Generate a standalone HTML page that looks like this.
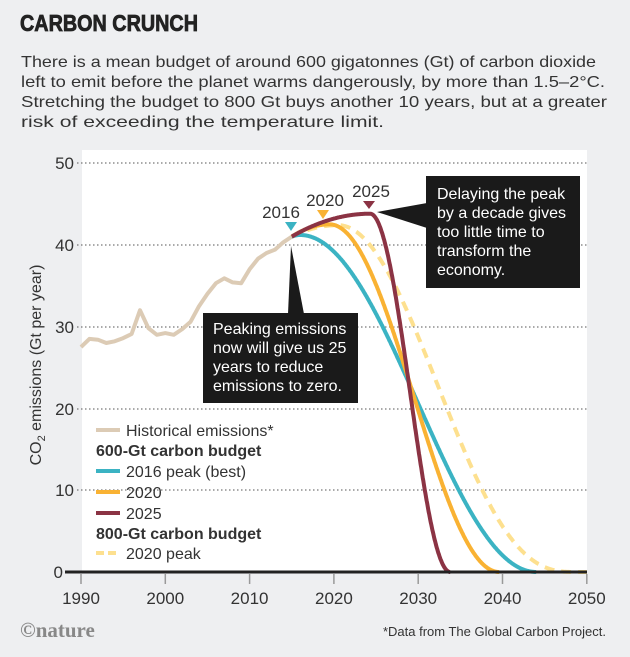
<!DOCTYPE html>
<html><head><meta charset="utf-8"><style>
body{margin:0;background:#eeeff1;}
svg{display:block;font-family:"Liberation Sans",sans-serif;}
</style></head><body>
<svg id="s" width="630" height="657" xmlns="http://www.w3.org/2000/svg">
<rect width="630" height="657" fill="#eeeff1"/>
<text x="20" y="31" font-size="23" font-weight="bold" fill="#222" stroke="#222" stroke-width="0.8" textLength="178" lengthAdjust="spacingAndGlyphs">CARBON CRUNCH</text>
<g font-size="16" fill="#333">
<text x="21" y="67" textLength="575" lengthAdjust="spacingAndGlyphs">There is a mean budget of around 600 gigatonnes (Gt) of carbon dioxide</text>
<text x="21" y="87" textLength="584" lengthAdjust="spacingAndGlyphs">left to emit before the planet warms dangerously, by more than 1.5–2°C.</text>
<text x="21" y="107" textLength="586" lengthAdjust="spacingAndGlyphs">Stretching the budget to 800 Gt buys another 10 years, but at a greater</text>
<text x="21" y="127" textLength="363" lengthAdjust="spacingAndGlyphs">risk of exceeding the temperature limit.</text>
</g>
<rect x="82" y="150" width="505" height="422" fill="#fff"/>
<g stroke="#555" stroke-width="1" stroke-dasharray="1.5,2.5">
<line x1="77" y1="163" x2="587" y2="163"/><line x1="77" y1="245" x2="587" y2="245"/>
<line x1="77" y1="327" x2="587" y2="327"/><line x1="77" y1="409" x2="587" y2="409"/>
<line x1="77" y1="490" x2="587" y2="490"/>
</g>
<g font-size="17" fill="#333" text-anchor="end">
<text x="74" y="169">50</text><text x="74" y="251">40</text><text x="74" y="333">30</text>
<text x="74" y="415">20</text><text x="74" y="496">10</text><text x="63" y="578">0</text>
</g>
<text transform="translate(41,365) rotate(-90)" font-size="16" fill="#333" text-anchor="middle">CO<tspan font-size="11" dy="4">2</tspan><tspan dy="-4"> emissions (Gt per year)</tspan></text>
<g id="curves" fill="none" stroke-width="4" stroke-linejoin="round"></g>
<line x1="65" y1="572" x2="587" y2="572" stroke="#222" stroke-width="3"/>
<g stroke="#999" stroke-width="1.5" id="ticks"></g>
<g font-size="17" fill="#333" text-anchor="middle" id="xl"></g>
<polygon points="285,222 297,222 291,231" fill="#3bb3c3"/>
<polygon points="317,210 329,210 323,219" fill="#f9b233"/>
<polygon points="363,201 375,201 369,209" fill="#8b3344"/>
<g font-size="17" fill="#333" text-anchor="middle">
<text x="281" y="218">2016</text><text x="325" y="206">2020</text><text x="371" y="197">2025</text>
</g>
<polygon points="291,246 288,314 304,314" fill="#1a1a1a"/>
<rect x="203" y="313" width="155" height="90" fill="#1a1a1a"/>
<g font-size="16" fill="#fff">
<text x="213" y="334">Peaking emissions</text><text x="213" y="353">now will give us 25</text>
<text x="213" y="372">years to reduce</text><text x="213" y="391">emissions to zero.</text>
</g>
<polygon points="377,212 427,203 427,228" fill="#1a1a1a"/>
<rect x="426" y="176" width="154" height="112" fill="#1a1a1a"/>
<g font-size="16" fill="#fff">
<text x="437" y="199">Delaying the peak</text><text x="437" y="218">by a decade gives</text>
<text x="437" y="237">too little time to</text><text x="437" y="256">transform the</text>
<text x="437" y="275">economy.</text>
</g>
<g stroke-width="4">
<line x1="96" y1="430" x2="120" y2="430" stroke="#dccbb5"/>
<line x1="96" y1="471" x2="120" y2="471" stroke="#3bb3c3"/>
<line x1="96" y1="492" x2="120" y2="492" stroke="#f9b233"/>
<line x1="96" y1="513" x2="120" y2="513" stroke="#8b3344"/>
<line x1="96" y1="553" x2="120" y2="553" stroke="#fde08f" stroke-dasharray="8,4"/>
</g>
<g font-size="16" fill="#333">
<text x="126" y="436">Historical emissions*</text>
<text x="96" y="456" font-weight="bold">600-Gt carbon budget</text>
<text x="126" y="477">2016 peak (best)</text>
<text x="126" y="498">2020</text>
<text x="126" y="519">2025</text>
<text x="96" y="539" font-weight="bold">800-Gt carbon budget</text>
<text x="126" y="559">2020 peak</text>
</g>
<text x="20" y="637" font-family="Liberation Serif,serif" font-size="21" font-weight="bold" fill="#888">©nature</text>
<text x="606" y="636" font-size="13" fill="#333" text-anchor="end">*Data from The Global Carbon Project.</text>
</svg>
<script>
const X=y=>81+(y-1990)*8.43, Y=v=>572-v*8.18;
const ns="http://www.w3.org/2000/svg";
function path(pts,col,dash){const p=document.createElementNS(ns,"path");
p.setAttribute("d","M"+pts.map(a=>X(a[0]).toFixed(1)+","+Y(a[1]).toFixed(1)).join("L"));
p.setAttribute("stroke",col);if(dash)p.setAttribute("stroke-dasharray",dash);
document.getElementById("curves").appendChild(p);}
const h=[27.5,28.5,28.4,28,28.2,28.6,29.1,32,29.8,29,29.2,29,29.7,30.6,32.5,34,35.3,35.9,35.4,35.3,37,38.3,39,39.4,40.3,41];
path(h.map((v,i)=>[1990+i,v]),"#dccbb5");
function sc(tp,P,t1,end,pw){pw=pw||1;const pts=[];
for(let t=2015;t<=end+0.001;t+=0.05){let v;
 if(t<=tp){const s=(t-2015)/(tp-2015||1);v=41+(P-41)*(1-(1-s)*(1-s));}
 else if(t<t1){const s=(t-tp)/(t1-tp);v=P*Math.pow((1+Math.cos(Math.PI*s))/2,pw);}
 else v=0;pts.push([t,v]);}
return pts;}
path(sc(2020.5,42.4,2048.5,2050,1.3),"#fde08f","10,7");
path(sc(2016,41.2,2044,2044),"#3bb3c3");
path(sc(2019.5,42.5,2039.6,2039.6),"#f9b233");
path(sc(2024.3,43.8,2033.8,2033.8),"#8b3344");
const tk=document.getElementById("ticks"),xl=document.getElementById("xl");
for(let y=1990;y<=2050;y+=10){const l=document.createElementNS(ns,"line");
l.setAttribute("x1",X(y));l.setAttribute("x2",X(y));l.setAttribute("y1",574);l.setAttribute("y2",584);tk.appendChild(l);
const t=document.createElementNS(ns,"text");t.setAttribute("x",X(y));t.setAttribute("y",604);t.textContent=y;xl.appendChild(t);}
</script>
</body></html>
